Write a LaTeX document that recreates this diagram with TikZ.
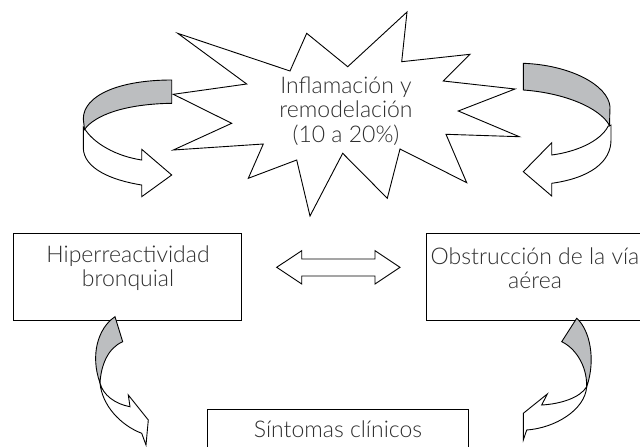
\documentclass[tikz,border=0pt]{standalone}
\usepackage{fontspec}
\setmainfont{Lato}[UprightFont={* Light}]
\definecolor{txt}{HTML}{2E2E2E}
\definecolor{band}{HTML}{BCBEC0}
\tikzset{
  outl/.style={draw=black, line width=0.9pt, line join=miter},
  boxnode/.style={draw=black, line width=0.9pt, rectangle, inner sep=0pt},
  lbl/.style={text=txt, font=\fontsize{23}{24.5}\selectfont, align=center, inner sep=0pt},
  grayband/.style={outl, fill=band},
  whiteband/.style={outl, fill=white}
}
\begin{document}
\begin{tikzpicture}[x=1pt,y=-1pt]
\useasboundingbox (0,0) rectangle (640,447);
\clip (0,0) rectangle (640,447);
\fill[white] (0,0) rectangle (640,447);

% starburst
\draw[outl, fill=white] (177.7,33.3) -- (290,71) -- (306.7,33.3) -- (347.7,66.7) -- (407,12) -- (401.7,61.7) -- (470,54.3) -- (443.3,81) -- (515,89) -- (458.3,111) -- (519.3,136.7) -- (446,134.3) -- (466.7,182.7) -- (400,149) -- (387.3,198.3) -- (342.7,153.3) -- (310,216) -- (296.7,160) -- (248.3,178.3) -- (263.3,144) -- (173.3,150) -- (231.7,123.3) -- (173.3,94.3) -- (246.7,84) -- cycle;
\node[lbl] (infl) at (346,111) {Inflamación y\\remodelación\\(10 a 20\%)};

% boxes
\node[boxnode, minimum width=228pt, minimum height=87pt] (hiper) at (127.5,276.5) {};
\node[lbl] (hipertxt) at (128,268) {Hiperreactividad\\bronquial};
\node[boxnode, minimum width=228pt, minimum height=87pt] (obst) at (540,276.5) {};
\node[lbl] (obsttxt) at (535,268) {Obstrucción de la vía\\aérea};
\node[boxnode, minimum width=261pt, minimum height=87pt, anchor=north] (sint) at (337.5,409) {};
\node[lbl] (sinttxt) at (338,429) {Síntomas clínicos};

% double arrow
\draw[outl, fill=white] (276.7,267.3) -- (301.7,250.7) -- (301.7,259) -- (375,259) -- (375,250.7) -- (400,267.3) -- (375,284) -- (375,276) -- (301.7,276) -- (301.7,284) -- cycle;

% top-left curved arrow
\draw[whiteband] (83.3,127) -- (86.7,131.7) .. controls (95,143) and (115,156) .. (141.7,160) -- (141.7,149.3) -- (171.7,175) -- (141.7,196.7) -- (141.7,185) .. controls (110,180) and (84,168) .. (83.3,148.3) -- cycle;
\draw[grayband] (171.7,80) .. controls (120,80) and (83.3,95) .. (83.3,119) -- (84.5,129.5) .. controls (95,115) and (125,104) .. (171.7,103.3) -- cycle;

% top-right curved arrow
\draw[whiteband] (611,125) -- (608.3,126) .. controls (600,142) and (575,152) .. (551.7,155) -- (551.7,142.7) -- (523.3,171.7) -- (551.7,196) -- (551.7,183.3) .. controls (590,178) and (611,162) .. (611,140) -- cycle;
\draw[grayband] (523.3,63.3) .. controls (570,65) and (608,85) .. (610,106.7) -- (609.5,125.5) .. controls (600,108) and (565,93) .. (523.3,90) -- cycle;

% bottom-left curved arrow
\draw[grayband] (115,316.7) -- (122.7,341.7) .. controls (108,348) and (101,365) .. (100,383) .. controls (90,355) and (98,328) .. (115,316.7) -- cycle;
\draw[whiteband] (100,383) .. controls (103,395) and (115,404) .. (130,406.7) -- (128.3,395) -- (148.3,420) -- (146,445) -- (141.7,433.3) .. controls (120,425) and (102,405) .. (100,383) -- cycle;

% bottom-right curved arrow
\draw[grayband] (576.7,318.3) .. controls (590,330) and (596,360) .. (586.7,386.7) .. controls (587,365) and (575,348) .. (561.7,341.7) -- cycle;
\draw[whiteband] (586.7,386.7) .. controls (580,398) and (560,404) .. (541.7,405) -- (547.3,394) -- (523.3,413.3) -- (523.3,440) -- (526.7,430) .. controls (555,428) and (585,410) .. (586.7,386.7) -- cycle;
\end{tikzpicture}
\end{document}
